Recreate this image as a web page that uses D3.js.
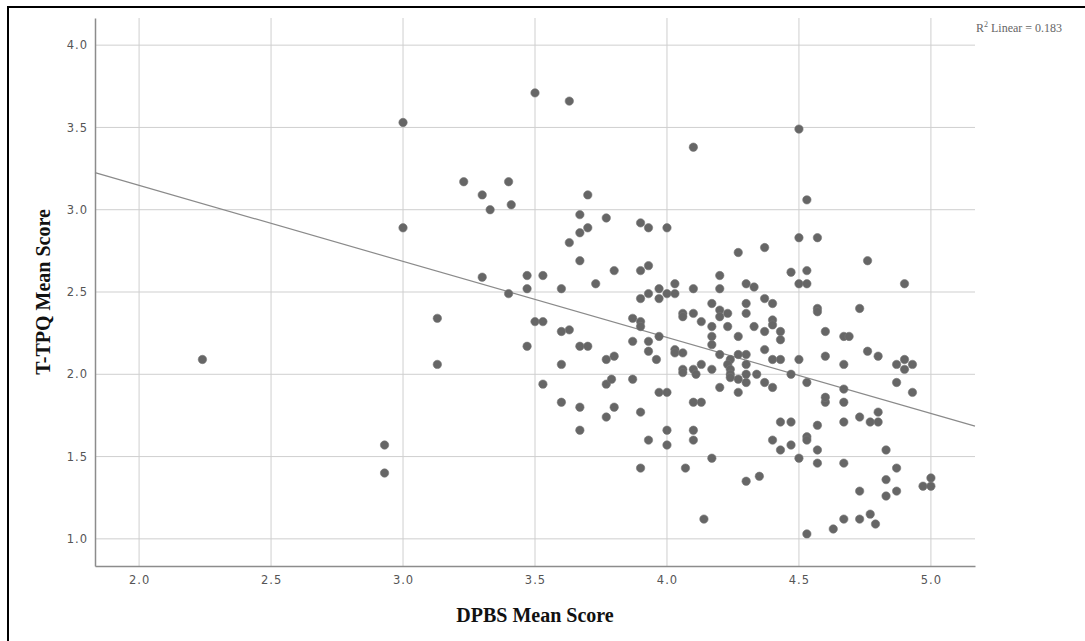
<!DOCTYPE html>
<html>
<head>
<meta charset="utf-8">
<script src="https://cdn.jsdelivr.net/npm/d3@7"></script>
<style>
  body { margin: 0; background: #fff; }
  .tick text { font-family: "DejaVu Sans", sans-serif; font-size: 11.5px; letter-spacing: 1px; fill: #555; }
  .axis-title { font-family: "Liberation Serif", "Times New Roman", serif; font-weight: bold; font-size: 20px; fill: #111; }
  .r2 { font-family: "Liberation Serif", serif; font-size: 12px; fill: #666; }
</style>
</head>
<body>
<div id="chart"></div>
<script>
// DPBS mean score (x) and T-TPQ mean score (y)
const dpbs = [
  2.24, 2.93, 2.93, 3.00, 3.00, 3.13, 3.13, 3.23, 3.40, 3.30, 3.41, 3.33, 3.50, 3.63, 3.70, 3.67,
  3.77, 3.70, 3.67, 3.63, 3.90, 3.93, 4.00, 3.67, 3.80, 3.90, 3.93, 3.30, 3.47, 3.53, 3.40, 3.47,
  3.60, 3.73, 3.90, 3.93, 3.97, 3.97, 4.00, 4.03, 4.03, 4.10, 4.20, 3.50, 3.53, 3.87, 3.90, 3.90,
  3.60, 3.63, 3.97, 3.47, 3.67, 3.70, 3.87, 3.93, 3.93, 3.60, 3.77, 3.80, 3.96, 3.53, 3.77, 3.79,
  3.87, 3.97, 4.00, 3.60, 3.67, 3.80, 3.77, 3.90, 3.67, 4.00, 3.93, 4.00, 3.90, 4.10, 4.13, 4.10,
  4.10, 4.07, 4.17, 4.14, 4.30, 4.35, 4.43, 4.47, 4.40, 4.43, 4.47, 4.50, 4.53, 4.53, 4.57, 4.57,
  4.57, 4.60, 4.67, 4.67, 4.67, 4.73, 4.77, 4.80, 4.80, 4.83, 4.87, 4.83, 4.87, 4.83, 4.73, 5.00,
  4.97, 5.00, 4.53, 4.63, 4.67, 4.73, 4.77, 4.79, 4.50, 4.10, 4.53, 4.50, 4.57, 4.27, 4.37, 4.76,
  4.47, 4.53, 4.20, 4.50, 4.53, 4.90, 4.30, 4.33, 4.17, 4.30, 4.37, 4.40, 4.57, 4.57, 4.73, 4.06,
  4.06, 4.10, 4.20, 4.20, 4.23, 4.30, 4.13, 4.17, 4.23, 4.33, 4.40, 4.40, 4.37, 4.43, 4.43, 4.27,
  4.17, 4.17, 4.60, 4.67, 4.69, 4.37, 4.03, 4.03, 4.06, 4.20, 4.24, 4.23, 4.27, 4.30, 4.30, 4.40,
  4.43, 4.50, 4.60, 4.76, 4.80, 4.87, 4.90, 4.93, 4.90, 4.67, 4.13, 4.10, 4.06, 4.06, 4.11, 4.17,
  4.24, 4.24, 4.24, 4.27, 4.30, 4.34, 4.47, 4.53, 4.30, 4.37, 4.40, 4.20, 4.27, 4.60, 4.67, 4.87,
  4.93
];
const ttpq = [
  2.09, 1.57, 1.40, 3.53, 2.89, 2.34, 2.06, 3.17, 3.17, 3.09, 3.03, 3.00, 3.71, 3.66, 3.09, 2.97,
  2.95, 2.89, 2.86, 2.80, 2.92, 2.89, 2.89, 2.69, 2.63, 2.63, 2.66, 2.59, 2.60, 2.60, 2.49, 2.52,
  2.52, 2.55, 2.46, 2.49, 2.52, 2.46, 2.49, 2.49, 2.55, 2.52, 2.52, 2.32, 2.32, 2.34, 2.32, 2.29,
  2.26, 2.27, 2.23, 2.17, 2.17, 2.17, 2.20, 2.20, 2.14, 2.06, 2.09, 2.11, 2.09, 1.94, 1.94, 1.97,
  1.97, 1.89, 1.89, 1.83, 1.80, 1.80, 1.74, 1.77, 1.66, 1.66, 1.60, 1.57, 1.43, 1.83, 1.83, 1.66,
  1.60, 1.43, 1.49, 1.12, 1.35, 1.38, 1.71, 1.71, 1.60, 1.54, 1.57, 1.49, 1.62, 1.60, 1.69, 1.54,
  1.46, 1.83, 1.83, 1.71, 1.46, 1.74, 1.71, 1.71, 1.77, 1.54, 1.43, 1.36, 1.29, 1.26, 1.29, 1.37,
  1.32, 1.32, 1.03, 1.06, 1.12, 1.12, 1.15, 1.09, 3.49, 3.38, 3.06, 2.83, 2.83, 2.74, 2.77, 2.69,
  2.62, 2.63, 2.60, 2.55, 2.55, 2.55, 2.55, 2.53, 2.43, 2.43, 2.46, 2.43, 2.40, 2.38, 2.40, 2.37,
  2.35, 2.37, 2.39, 2.35, 2.37, 2.37, 2.32, 2.29, 2.29, 2.29, 2.33, 2.30, 2.26, 2.26, 2.21, 2.23,
  2.23, 2.18, 2.26, 2.23, 2.23, 2.15, 2.15, 2.13, 2.13, 2.12, 2.09, 2.06, 2.12, 2.12, 2.06, 2.09,
  2.09, 2.09, 2.11, 2.14, 2.11, 2.06, 2.09, 2.06, 2.03, 2.06, 2.06, 2.03, 2.03, 2.01, 2.00, 2.03,
  2.03, 2.00, 1.98, 1.97, 2.00, 2.00, 2.00, 1.95, 1.95, 1.95, 1.92, 1.92, 1.89, 1.86, 1.91, 1.95,
  1.89
];
const xTicks = [2.0, 2.5, 3.0, 3.5, 4.0, 4.5, 5.0];
const yTicks = [1.0, 1.5, 2.0, 2.5, 3.0, 3.5, 4.0];
const fitLine = { intercept: 4.072, slope: -0.462, r2: 0.183 };

const width = 1085, height = 641;
const plot = { left: 95, right: 975, top: 18, bottom: 566 };

const points = dpbs.map((d, i) => ({ x: d, y: ttpq[i] }));

const svg = d3.select('#chart').append('svg')
    .attr('width', width)
    .attr('height', height);

// outer frame
svg.append('rect')
    .attr('x', 8).attr('y', 7)
    .attr('width', width).attr('height', height)
    .attr('fill', 'none')
    .attr('stroke', '#000')
    .attr('stroke-width', 2);

const x = d3.scaleLinear().domain([1.833, 5.167]).range([plot.left, plot.right]);
const y = d3.scaleLinear().domain([0.835, 4.165]).range([plot.bottom, plot.top]);

// gridlines
svg.append('g')
    .selectAll('line')
    .data(xTicks)
    .enter().append('line')
    .attr('x1', d => x(d)).attr('x2', d => x(d))
    .attr('y1', plot.top).attr('y2', plot.bottom)
    .attr('stroke', '#cfcfcf');

svg.append('g')
    .selectAll('line')
    .data(yTicks)
    .enter().append('line')
    .attr('x1', plot.left).attr('x2', plot.right)
    .attr('y1', d => y(d)).attr('y2', d => y(d))
    .attr('stroke', '#cfcfcf');

// axes
const xAxis = svg.append('g')
    .attr('transform', `translate(0,${plot.bottom})`)
    .call(d3.axisBottom(x).tickValues(xTicks).tickFormat(d3.format('.1f')).tickSize(0).tickPadding(10));
const yAxis = svg.append('g')
    .attr('transform', `translate(${plot.left},0)`)
    .call(d3.axisLeft(y).tickValues(yTicks).tickFormat(d3.format('.1f')).tickSize(0).tickPadding(7));
[xAxis, yAxis].forEach(a => a.select('.domain').attr('stroke', '#8c8c8c').attr('stroke-width', 1.5));

// fit line
const lineX = x.domain();
svg.append('line')
    .attr('x1', x(lineX[0]))
    .attr('y1', y(fitLine.intercept + fitLine.slope * lineX[0]))
    .attr('x2', x(lineX[1]))
    .attr('y2', y(fitLine.intercept + fitLine.slope * lineX[1]))
    .attr('stroke', '#8a8a8a')
    .attr('stroke-width', 1.2);

// points
svg.append('g')
    .selectAll('circle')
    .data(points)
    .enter().append('circle')
    .attr('cx', d => x(d.x))
    .attr('cy', d => y(d.y))
    .attr('r', 4.2)
    .attr('fill', '#666')
    .attr('stroke', '#777')
    .attr('stroke-width', 0.6);

// titles
svg.append('text')
    .attr('class', 'axis-title')
    .attr('x', (plot.left + plot.right) / 2)
    .attr('y', 622)
    .attr('text-anchor', 'middle')
    .text('DPBS Mean Score');

svg.append('text')
    .attr('class', 'axis-title')
    .attr('transform', `translate(50,${(plot.top + plot.bottom) / 2}) rotate(-90)`)
    .attr('text-anchor', 'middle')
    .text('T-TPQ Mean Score');

const r2 = svg.append('text')
    .attr('class', 'r2')
    .attr('x', 976)
    .attr('y', 32);
r2.append('tspan').text('R');
r2.append('tspan').attr('font-size', '8px').attr('dy', -5).text('2');
r2.append('tspan').attr('dy', 5).text(` Linear = ${fitLine.r2}`);
</script>
</body>
</html>
